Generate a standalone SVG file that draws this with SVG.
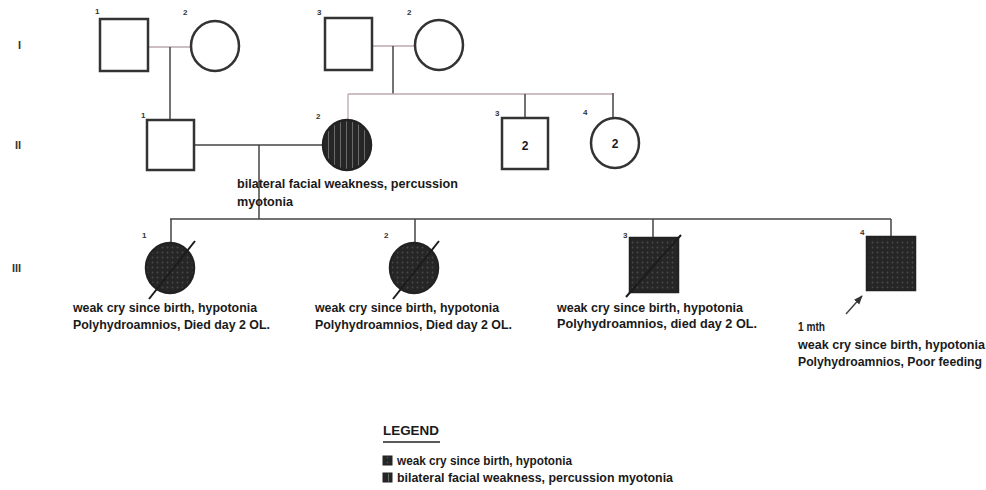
<svg xmlns="http://www.w3.org/2000/svg" width="986" height="490" viewBox="0 0 986 490">
<style>
.sym{fill:#fff;stroke:#333;stroke-width:2.5}
.aff{stroke:#222;stroke-width:2.5}
.ln{stroke:#444;stroke-width:1.5;fill:none}
.lt{stroke:#bda9ad;stroke-width:1.3;fill:none}
.dg{stroke:#1c1c1c;stroke-width:2;fill:none}
.t{font-family:"Liberation Sans",Arial,sans-serif;font-weight:bold;font-size:12px;fill:#1a1a1a}
.n{font-family:"Liberation Sans",Arial,sans-serif;font-weight:bold;font-size:8px;fill:#333}
.g{font-family:"Liberation Sans",Arial,sans-serif;font-weight:bold;font-size:11px;fill:#333}
</style>
<defs>
<pattern id="dots" width="5" height="5" patternUnits="userSpaceOnUse">
<rect width="5" height="5" fill="#262626"/>
<circle cx="2.5" cy="2.5" r="0.9" fill="#4a4a4a"/>
</pattern>
<pattern id="stripes" width="6" height="6" patternUnits="userSpaceOnUse">
<rect width="6" height="6" fill="#262626"/>
<rect x="4" width="1" height="6" fill="#6a6a6a"/>
</pattern>
<marker id="arr" viewBox="0 0 10 10" refX="9" refY="5" markerWidth="6" markerHeight="6" orient="auto">
<path d="M0,1 L10,5 L0,9 z" fill="#333"/>
</marker>
</defs>

<g id="gen-labels">
<text class="g" x="18" y="49">I</text>
<text class="g" x="15" y="149">II</text>
<text class="g" x="12" y="272" fill="#666">III</text>
</g>

<g id="connectors">
<line class="lt" x1="148" y1="47" x2="191" y2="47"/>
<line class="ln" x1="170" y1="47" x2="170" y2="120"/>
<line class="lt" x1="372" y1="46" x2="415" y2="46"/>
<line class="ln" x1="393" y1="46" x2="393" y2="94"/>
<line class="lt" x1="348" y1="94" x2="613" y2="94"/>
<line class="lt" x1="348" y1="94" x2="348" y2="121"/>
<line class="ln" x1="525" y1="94" x2="525" y2="118"/>
<line class="ln" x1="613" y1="93" x2="613" y2="119" stroke="#8e8aa8"/>
<line class="ln" x1="194" y1="145" x2="323" y2="145"/>
<line class="ln" x1="259" y1="145" x2="259" y2="219" stroke="#222" stroke-width="2"/>
<line class="ln" x1="170" y1="219" x2="891" y2="219" stroke="#333" stroke-width="2"/>
<line class="ln" x1="171" y1="219" x2="171" y2="244" stroke="#333" stroke-width="2"/>
<line class="ln" x1="415" y1="219" x2="415" y2="244" stroke="#333" stroke-width="2"/>
<line class="ln" x1="653" y1="219" x2="653" y2="238" stroke="#333" stroke-width="2"/>
<line class="ln" x1="891" y1="219" x2="891" y2="237" stroke="#333" stroke-width="2"/>
</g>

<g id="I-1"><rect class="sym" x="100" y="19" width="48" height="52"/><text class="n" x="95" y="14">1</text></g>
<g id="I-2"><ellipse class="sym" cx="215" cy="46" rx="24" ry="25"/><text class="n" x="183" y="15">2</text></g>
<g id="I-3"><rect class="sym" x="325" y="18" width="47" height="52"/><text class="n" x="317" y="15">3</text></g>
<g id="I-4"><ellipse class="sym" cx="439" cy="45" rx="24" ry="25"/><text class="n" x="407" y="15">2</text></g>

<g id="II-1"><rect class="sym" x="147" y="120" width="47" height="50"/><text class="n" x="141" y="118">1</text></g>
<g id="II-2"><ellipse class="aff" cx="347" cy="145" rx="24" ry="25" fill="url(#stripes)"/><text class="n" x="316" y="119">2</text>
<text class="t" x="237" y="188" textLength="221" lengthAdjust="spacingAndGlyphs">bilateral facial weakness, percussion</text>
<text class="t" x="237" y="206" textLength="56" lengthAdjust="spacingAndGlyphs">myotonia</text></g>
<g id="II-3"><rect class="sym" x="502" y="118" width="46" height="51"/><text class="n" x="495" y="116">3</text><text class="t" x="525" y="150" text-anchor="middle">2</text></g>
<g id="II-4"><ellipse class="sym" cx="615" cy="143" rx="24" ry="25" stroke="#1a1a1a" stroke-width="3"/><text class="n" x="583" y="115">4</text><text class="t" x="615" y="148" text-anchor="middle">2</text></g>

<g id="III-1"><ellipse class="aff" cx="170" cy="268" rx="24" ry="25" fill="url(#dots)"/>
<line class="dg" x1="149" y1="299" x2="195" y2="241"/>
<text class="n" x="142" y="238">1</text>
<text class="t" x="73" y="312" textLength="184" lengthAdjust="spacingAndGlyphs">weak cry since birth, hypotonia</text>
<text class="t" x="73" y="329" textLength="197" lengthAdjust="spacingAndGlyphs">Polyhydroamnios, Died day 2 OL.</text></g>
<g id="III-2"><ellipse class="aff" cx="414" cy="268" rx="24" ry="25" fill="url(#dots)"/>
<line class="dg" x1="393" y1="299" x2="439" y2="241"/>
<text class="n" x="384" y="238">2</text>
<text class="t" x="315" y="312" textLength="184" lengthAdjust="spacingAndGlyphs">weak cry since birth, hypotonia</text>
<text class="t" x="315" y="329" textLength="197" lengthAdjust="spacingAndGlyphs">Polyhydroamnios, Died day 2 OL.</text></g>
<g id="III-3"><rect class="aff" x="630" y="238" width="48" height="54" fill="url(#dots)"/>
<line class="dg" x1="626" y1="297" x2="681" y2="235"/>
<text class="n" x="623" y="238">3</text>
<text class="t" x="557" y="312" textLength="186" lengthAdjust="spacingAndGlyphs">weak cry since birth, hypotonia</text>
<text class="t" x="557" y="328" textLength="200" lengthAdjust="spacingAndGlyphs">Polyhydroamnios, died day 2 OL.</text></g>
<g id="III-4"><rect class="aff" x="867" y="237" width="48" height="53" fill="url(#dots)"/>
<line class="ln" x1="846" y1="314" x2="862" y2="296" stroke="#222" stroke-width="2" marker-end="url(#arr)"/>
<text class="n" x="860" y="235">4</text>
<text class="t" x="798" y="331" textLength="27" lengthAdjust="spacingAndGlyphs">1 mth</text>
<text class="t" x="798" y="349" textLength="187" lengthAdjust="spacingAndGlyphs">weak cry since birth, hypotonia</text>
<text class="t" x="798" y="366" textLength="184" lengthAdjust="spacingAndGlyphs">Polyhydroamnios, Poor feeding</text></g>

<g id="legend">
<text class="t" x="383" y="435" textLength="56" lengthAdjust="spacingAndGlyphs">LEGEND</text>
<line x1="383" y1="442" x2="440" y2="442" stroke="#222" stroke-width="1.5"/>
<rect x="383" y="456" width="9" height="9" fill="url(#dots)" stroke="#222" stroke-width="1"/>
<text class="t" x="397" y="465" textLength="175" lengthAdjust="spacingAndGlyphs">weak cry since birth, hypotonia</text>
<rect x="383" y="473" width="9" height="9" fill="url(#stripes)" stroke="#222" stroke-width="1"/>
<text class="t" x="397" y="482" textLength="276" lengthAdjust="spacingAndGlyphs">bilateral facial weakness, percussion myotonia</text>
</g>
</svg>
